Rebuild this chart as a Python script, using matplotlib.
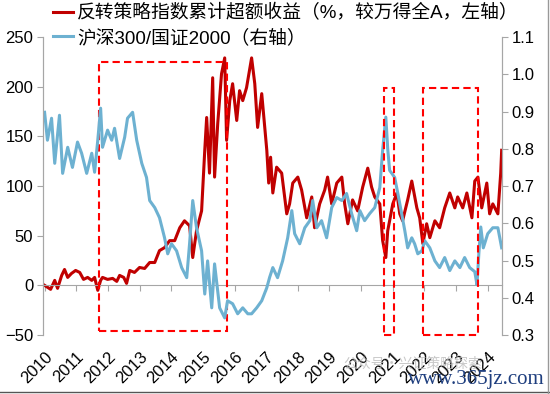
import matplotlib
matplotlib.use('Agg')
import matplotlib.pyplot as plt
from matplotlib.patches import Rectangle
from matplotlib.lines import Line2D
from matplotlib.ticker import FormatStrFormatter

plt.rcParams['font.family'] = ['Liberation Sans', 'Noto Sans CJK SC', 'DejaVu Sans']

# 反转策略指数累计超额收益 (%, left axis), decimal years
red_t = [2010.00, 2010.19, 2010.32, 2010.41, 2010.54, 2010.63, 2010.73, 2010.85, 2010.98,
         2011.11, 2011.23, 2011.36, 2011.49, 2011.58, 2011.68, 2011.77, 2011.83, 2011.99,
         2012.15, 2012.28, 2012.37, 2012.50, 2012.59, 2012.69, 2012.84,
         2013.00, 2013.16, 2013.32, 2013.48, 2013.63, 2013.79, 2013.95,
         2014.11, 2014.27, 2014.42, 2014.58, 2014.68, 2014.80, 2014.96,
         2015.06, 2015.12, 2015.21, 2015.31, 2015.37, 2015.47, 2015.59, 2015.69, 2015.75, 2015.85, 2015.94,
         2016.07, 2016.16, 2016.26, 2016.38, 2016.54, 2016.64, 2016.73, 2016.86,
         2017.02, 2017.08, 2017.14, 2017.21, 2017.33, 2017.49, 2017.65, 2017.74, 2017.84,
         2018.00, 2018.12, 2018.28, 2018.44, 2018.53, 2018.69, 2018.85, 2018.94,
         2019.07, 2019.23, 2019.39, 2019.48, 2019.58, 2019.73, 2019.89,
         2020.05, 2020.21, 2020.33, 2020.43, 2020.59, 2020.68, 2020.78, 2020.84, 2020.90,
         2021.00, 2021.13, 2021.22, 2021.31, 2021.47, 2021.60, 2021.76, 2021.85, 2021.95,
         2022.07, 2022.17, 2022.33, 2022.48, 2022.64, 2022.80, 2022.96,
         2023.05, 2023.21, 2023.34, 2023.50, 2023.59, 2023.69, 2023.81, 2023.97,
         2024.06, 2024.16, 2024.32, 2024.41, 2024.44]
red_v = [0, -4, 5, -3, 10, 16, 8, 12, 15,
         13, 6, 8, 5, 8, -5, 5, 8, 6,
         7, 4, 10, 8, 2, 15, 13,
         18, 17, 23, 23, 35, 38, 45,
         45, 58, 65, 60, 28, 55, 75,
         136, 169, 113, 209, 109, 163, 213, 229, 146, 186, 203,
         166, 196, 186, 199, 229, 203, 159, 193,
         136, 103, 129, 93, 119, 113, 72, 82, 103,
         109, 96, 68, 89, 58, 82, 96, 109,
         82, 103, 109, 82, 62, 86, 75,
         99, 118, 99, 89, 82, 45, 28, 55, 65,
         82, 93, 72, 65, 86, 105, 78, 68, 42,
         62, 48, 65, 58, 78, 93, 78,
         89, 78, 93, 68, 105, 109, 78, 103,
         72, 82, 72, 113, 136]

# 沪深300/国证2000 (right axis)
blue_t = [2010.00, 2010.09, 2010.22, 2010.32, 2010.47, 2010.57, 2010.73, 2010.88,
          2011.04, 2011.17, 2011.33, 2011.49, 2011.58, 2011.68, 2011.77, 2011.83, 2011.99,
          2012.12, 2012.21, 2012.37, 2012.53, 2012.62, 2012.78, 2012.91,
          2013.07, 2013.22, 2013.32, 2013.48, 2013.63, 2013.79, 2013.89,
          2014.01, 2014.17, 2014.33, 2014.49, 2014.58, 2014.68, 2014.80, 2014.96,
          2015.06, 2015.15, 2015.28, 2015.37, 2015.53, 2015.69, 2015.78, 2015.94,
          2016.10, 2016.26, 2016.42, 2016.54, 2016.70, 2016.86,
          2017.02, 2017.11, 2017.21, 2017.36, 2017.52, 2017.68, 2017.81, 2017.90,
          2018.06, 2018.22, 2018.38, 2018.47, 2018.60, 2018.75, 2018.91,
          2019.07, 2019.23, 2019.39, 2019.54, 2019.70, 2019.86, 2019.96,
          2020.11, 2020.27, 2020.43, 2020.59, 2020.68, 2020.78, 2020.84, 2020.90, 2020.97,
          2021.06, 2021.16, 2021.28, 2021.38, 2021.47, 2021.60, 2021.69, 2021.79, 2021.92,
          2022.01, 2022.17, 2022.33, 2022.48, 2022.64, 2022.80, 2022.96,
          2023.12, 2023.27, 2023.43, 2023.59, 2023.66, 2023.72, 2023.78, 2023.86,
          2024.00, 2024.16, 2024.32, 2024.44]
blue_v = [0.898, 0.823, 0.882, 0.761, 0.890, 0.734, 0.804, 0.750,
          0.818, 0.788, 0.734, 0.788, 0.737, 0.823, 0.909, 0.804, 0.850,
          0.823, 0.855, 0.774, 0.831, 0.882, 0.898, 0.823,
          0.761, 0.723, 0.661, 0.642, 0.615, 0.561, 0.518,
          0.545, 0.526, 0.481, 0.454, 0.545, 0.661, 0.588, 0.526,
          0.410, 0.499, 0.373, 0.491, 0.373, 0.346, 0.392, 0.384,
          0.357, 0.373, 0.357, 0.357, 0.373, 0.392,
          0.427, 0.455, 0.481, 0.454, 0.499, 0.561, 0.634, 0.572,
          0.545, 0.588, 0.607, 0.661, 0.588, 0.607, 0.561,
          0.642, 0.669, 0.661, 0.680, 0.626, 0.580, 0.634,
          0.607, 0.626, 0.642, 0.696, 0.796, 0.885, 0.800, 0.742, 0.734,
          0.723, 0.680, 0.626, 0.580, 0.534, 0.561, 0.545, 0.518, 0.526,
          0.553, 0.534, 0.499, 0.481, 0.508, 0.473, 0.499,
          0.481, 0.508, 0.481, 0.470, 0.435, 0.520, 0.590, 0.534,
          0.572, 0.588, 0.588, 0.534]

years = list(range(2010, 2025))

# highlighted periods: (start, end, low, high) -- first on left axis, others on right axis
box_left = [(2011.71, 2015.75, -46, 225)]
box_right = [(2020.71, 2021.03, 0.30, 0.963), (2021.95, 2023.69, 0.30, 0.963)]

red = '#C00000'
blue = '#6DB1D1'
grey = '#A6A6A6'

fig = plt.figure(figsize=(5.5, 3.94), dpi=100)
ax = fig.add_axes([0.0782, 0.1497, 0.9127 - 0.0782, 0.906 - 0.1497])
ax2 = ax.twinx()

l1, = ax.plot(red_t, red_v, color=red, lw=2.2)
l2, = ax2.plot(blue_t, blue_v, color=blue, lw=2.2)

ax.set_xlim(2009.95, 2024.45)
ax.set_ylim(-50, 250)
ax.set_yticks(range(-50, 251, 50))
ax2.set_ylim(0.3, 1.1)
ax2.set_yticks([0.3 + 0.1 * i for i in range(9)])
ax2.yaxis.set_major_formatter(FormatStrFormatter('%.1f'))

for a in (ax, ax2):
    a.spines['top'].set_visible(False)
    a.spines['left'].set_color(grey)
    a.spines['right'].set_color(grey)
    a.tick_params(axis='y', colors=grey, labelcolor='black', labelsize=12,
                  length=4, width=0.8, pad=3)
ax2.spines['bottom'].set_visible(False)

# category axis drawn at zero
ax.spines['bottom'].set_position(('data', 0))
ax.spines['bottom'].set_color(grey)
ax.set_xticks(years)
ax.tick_params(axis='x', colors=grey, length=4, width=0.8, labelbottom=False)

sec = ax.secondary_xaxis('bottom')
sec.set_xticks(years)
sec.set_xticklabels([str(y) for y in years], rotation=45, ha='right',
                    rotation_mode='anchor', fontsize=12)
sec.tick_params(axis='x', length=0, pad=10)
sec.spines['bottom'].set_visible(False)

for x0, x1, y0, y1 in box_left:
    ax.add_patch(Rectangle((x0, y0), x1 - x0, y1 - y0, fill=False, ec='#FF0000',
                           lw=1.5, ls=(0, (3.5, 2)), zorder=5, clip_on=False))
for x0, x1, y0, y1 in box_right:
    ax2.add_patch(Rectangle((x0, y0), x1 - x0, y1 - y0, fill=False, ec='#FF0000',
                            lw=1.5, ls=(0, (3.5, 2)), zorder=5, clip_on=False))

fig.legend([l1, l2], ['反转策略指数累计超额收益（%，较万得全A，左轴）', '沪深300/国证2000（右轴）'],
           loc='upper left', bbox_to_anchor=(0.083, 1.008), frameon=False, fontsize=13.5,
           handlelength=1.07, handletextpad=0.2, labelspacing=0.36, borderaxespad=0)

# watermark
fig.text(0.625, 0.068, '公众号·兴证策略探索', color='#BBBBBB', fontsize=10, alpha=0.8,
         family=['Noto Sans CJK SC'])
fig.text(0.742, 0.025, 'www.365jz.com', color='#1F3F7F', fontsize=15,
         family=['Liberation Serif'])

fig.add_artist(Line2D([0, 1], [0.004, 0.004], color='#555555', lw=1))
fig.add_artist(Line2D([0.997, 0.997], [0, 1], color='#999999', lw=1))

fig.savefig('out.png', dpi=100)
